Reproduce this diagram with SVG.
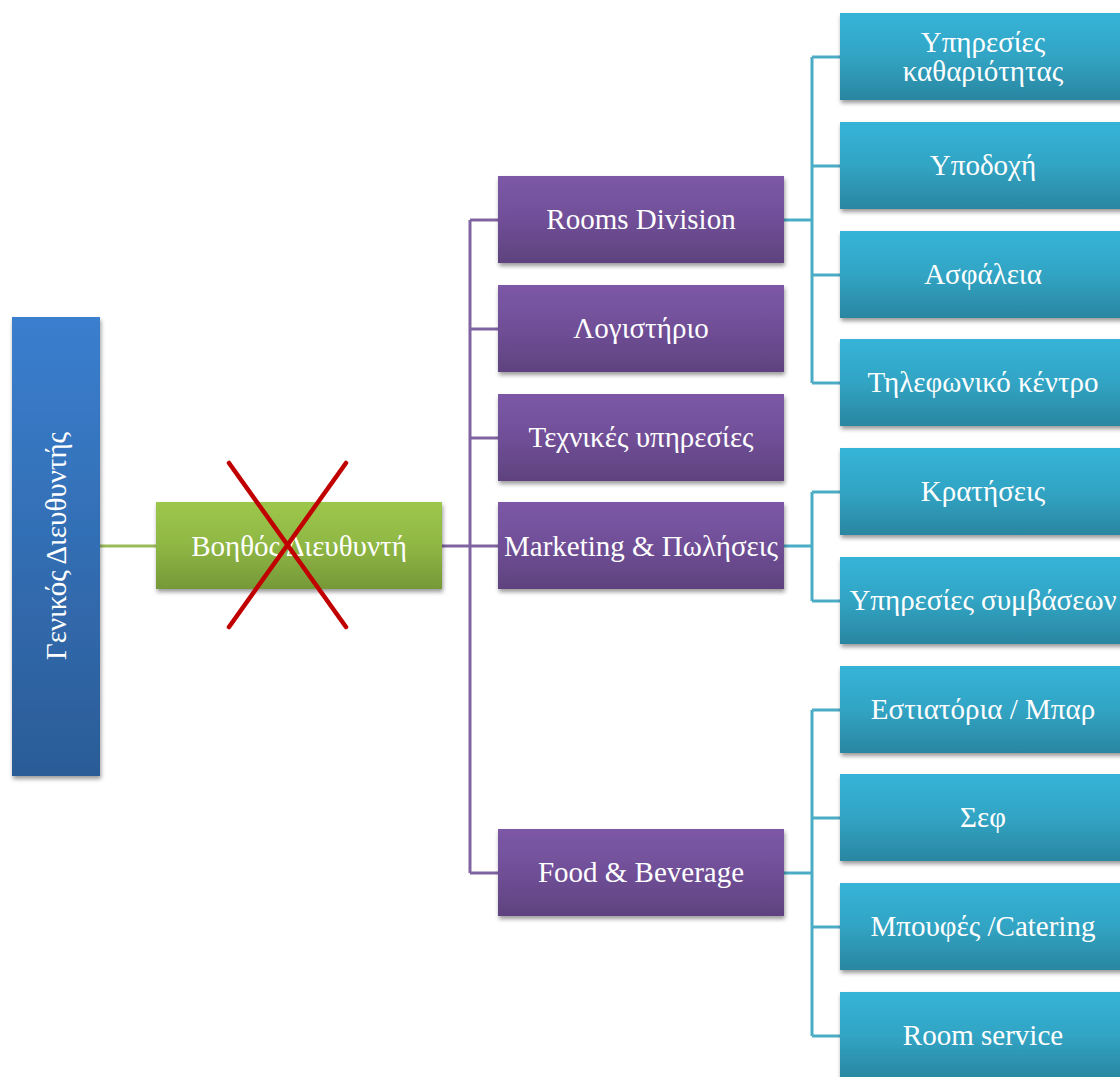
<svg xmlns="http://www.w3.org/2000/svg" width="1120" height="1077" viewBox="0 0 1120 1077">
<defs>
<linearGradient id="gBlue" x1="0" y1="0" x2="0" y2="1"><stop offset="0" stop-color="#3a7fcf"/><stop offset="1" stop-color="#2b5c97"/></linearGradient>
<linearGradient id="gGreen" x1="0" y1="0" x2="0" y2="1"><stop offset="0" stop-color="#9dc74b"/><stop offset="0.5" stop-color="#8fb744"/><stop offset="1" stop-color="#769838"/></linearGradient>
<linearGradient id="gPurple" x1="0" y1="0" x2="0" y2="1"><stop offset="0" stop-color="#7c58a7"/><stop offset="0.5" stop-color="#704f97"/><stop offset="1" stop-color="#5e427e"/></linearGradient>
<linearGradient id="gTeal" x1="0" y1="0" x2="0" y2="1"><stop offset="0" stop-color="#36b4d8"/><stop offset="0.5" stop-color="#31a4c4"/><stop offset="1" stop-color="#2a86a0"/></linearGradient>
<filter id="sh" x="-10%" y="-10%" width="125%" height="130%"><feDropShadow dx="1" dy="3" stdDeviation="2.2" flood-color="#000" flood-opacity="0.4"/></filter>
</defs>
<style>
.t{font-family:"Liberation Serif","DejaVu Serif",serif;font-size:29px;fill:#ffffff;text-anchor:middle}
.cp{stroke:#8064a2;stroke-width:3;fill:none}
.ct{stroke:#4bacc6;stroke-width:3;fill:none}
.cg{stroke:#9bbb59;stroke-width:3;fill:none}
</style>
<g id="connectors">
<path class="cg" d="M100 546 H156"/>
<path class="cp" d="M442 546 H498 M470 220 V873 M470 220 H498 M470 329 H498 M470 438 H498 M470 873 H498"/>
<path class="ct" d="M784 220 H812 M812 57 V383 M812 57 H840 M812 166 H840 M812 275 H840 M812 383 H840"/>
<path class="ct" d="M784 546 H812 M812 492 V601 M812 492 H840 M812 601 H840"/>
<path class="ct" d="M784 873 H812 M812 710 V1036 M812 710 H840 M812 818 H840 M812 927 H840 M812 1036 H840"/>
</g>
<g id="gm"><rect x="12" y="317" width="88" height="459" fill="url(#gBlue)" filter="url(#sh)"/><text class="t" transform="rotate(-90 56 546)" x="56" y="556">Γενικός Διευθυντής</text></g>
<g id="assistant"><rect x="156" y="502" width="286" height="87" fill="url(#gGreen)" filter="url(#sh)"/><text class="t" x="299" y="556">Βοηθός Διευθυντή</text>
<path d="M229 463 L346 627 M346 463 L229 627" stroke="#c00000" stroke-width="4.5" stroke-linecap="round"/></g>
<g id="rooms"><rect x="498" y="176" width="286" height="87" fill="url(#gPurple)" filter="url(#sh)"/><text class="t" x="641" y="229">Rooms Division</text></g>
<g id="acc"><rect x="498" y="285" width="286" height="87" fill="url(#gPurple)" filter="url(#sh)"/><text class="t" x="641" y="338">Λογιστήριο</text></g>
<g id="tech"><rect x="498" y="394" width="286" height="87" fill="url(#gPurple)" filter="url(#sh)"/><text class="t" x="641" y="447">Τεχνικές υπηρεσίες</text></g>
<g id="mkt"><rect x="498" y="502" width="286" height="87" fill="url(#gPurple)" filter="url(#sh)"/><text class="t" x="641" y="556">Marketing &amp; Πωλήσεις</text></g>
<g id="fb"><rect x="498" y="829" width="286" height="87" fill="url(#gPurple)" filter="url(#sh)"/><text class="t" x="641" y="882">Food &amp; Beverage</text></g>
<g id="clean"><rect x="840" y="13" width="286" height="87" fill="url(#gTeal)" filter="url(#sh)"/><text class="t" x="983" y="52">Υπηρεσίες</text><text class="t" x="983" y="81">καθαριότητας</text></g>
<g id="recep"><rect x="840" y="122" width="286" height="87" fill="url(#gTeal)" filter="url(#sh)"/><text class="t" x="983" y="175">Υποδοχή</text></g>
<g id="sec"><rect x="840" y="231" width="286" height="87" fill="url(#gTeal)" filter="url(#sh)"/><text class="t" x="983" y="284">Ασφάλεια</text></g>
<g id="tel"><rect x="840" y="339" width="286" height="87" fill="url(#gTeal)" filter="url(#sh)"/><text class="t" x="983" y="392">Τηλεφωνικό κέντρο</text></g>
<g id="book"><rect x="840" y="448" width="286" height="87" fill="url(#gTeal)" filter="url(#sh)"/><text class="t" x="983" y="501">Κρατήσεις</text></g>
<g id="conv"><rect x="840" y="557" width="286" height="87" fill="url(#gTeal)" filter="url(#sh)"/><text class="t" x="983" y="610">Υπηρεσίες συμβάσεων</text></g>
<g id="rest"><rect x="840" y="666" width="286" height="87" fill="url(#gTeal)" filter="url(#sh)"/><text class="t" x="983" y="719">Εστιατόρια / Μπαρ</text></g>
<g id="chef"><rect x="840" y="774" width="286" height="87" fill="url(#gTeal)" filter="url(#sh)"/><text class="t" x="983" y="827">Σεφ</text></g>
<g id="buffet"><rect x="840" y="883" width="286" height="87" fill="url(#gTeal)" filter="url(#sh)"/><text class="t" x="983" y="936">Μπουφές /Catering</text></g>
<g id="rs"><rect x="840" y="992" width="286" height="87" fill="url(#gTeal)" filter="url(#sh)"/><text class="t" x="983" y="1045">Room service</text></g>
</svg>
